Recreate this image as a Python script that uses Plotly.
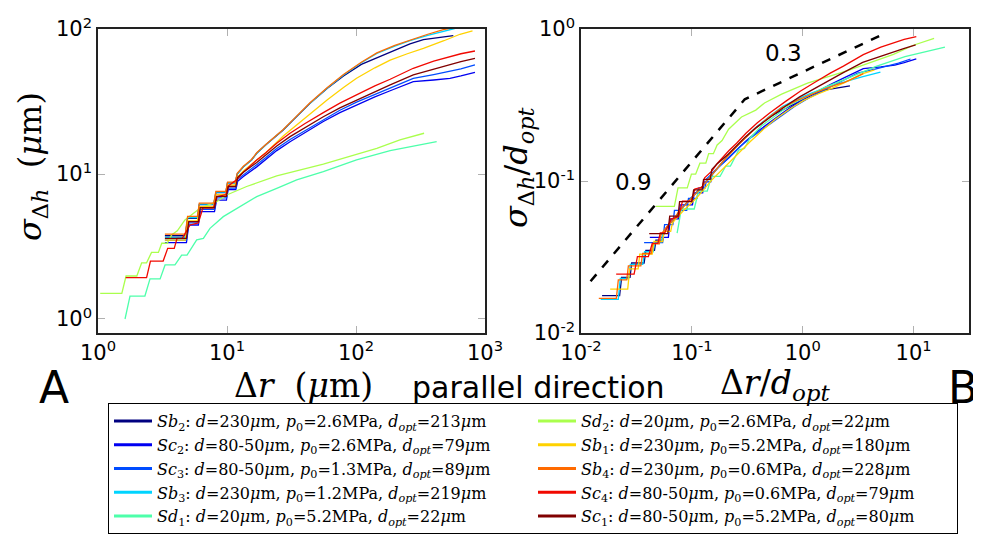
import numpy as np
import plotly.graph_objects as go

# ---------------- data ----------------
SERIES = ["Sb2", "Sc2", "Sc3", "Sb3", "Sd1", "Sd2", "Sb1", "Sb4", "Sc4", "Sc1"]
D_TXT = ["230", "80-50", "80-50", "230", "20", "20", "230", "230", "80-50", "80-50"]
P0 = ["2.6", "2.6", "1.3", "1.2", "5.2", "2.6", "5.2", "0.6", "0.6", "5.2"]
D_OPT = [213, 79, 89, 219, 22, 22, 180, 228, 79, 80]
COLORS = ["#000080", "#0000F1", "#004CFF", "#00D4FF", "#4DFFAA",
          "#AAFF4D", "#FFD200", "#FF6A00", "#F10800", "#800000"]
LEGEND_RANK = [1, 3, 5, 7, 9, 2, 4, 6, 8, 10]

# Delta r (um) and sigma_Delta h (um) for each series (left panel)
X_SB2 = [3.3, 4.75, 4.95, 5.9, 6.1, 7.9, 8.2, 9.8, 10.1, 11.6, 12.0, 13.4, 15.5, 17, 20, 23, 27.3, 33, 44, 60,
         80, 110, 153, 200, 262, 333, 450, 568]
Y_SB2 = [3.75, 3.75, 4.95, 4.95, 6.15, 6.15, 7.45, 7.45, 8.7, 8.7, 10.0, 11.2, 12.5, 13.9, 15.9, 17.7, 20.1, 23.8,
         30.7, 39, 47.5, 57, 64.5, 72, 79, 84.5, 88, 90]

X_SC2 = [3.3, 4.85, 5.05, 6.0, 6.2, 8.0, 8.3, 9.9, 10.2, 11.7, 12.1, 13.4, 17, 20, 24.3, 30.8, 40, 55.8, 75, 101,
         140, 184, 278, 400, 535, 650, 836]
Y_SC2 = [3.36, 3.36, 4.45, 4.45, 5.5, 5.5, 6.6, 6.6, 7.8, 7.8, 8.9, 9.6, 11.2, 12.6, 14.5, 16.7, 19.2, 23, 26.5,
         29.9, 34, 37.5, 43.3, 44.5, 45.7, 47.5, 50.3]

X_SC3 = [3.3, 4.85, 5.05, 6.0, 6.2, 8.0, 8.3, 9.9, 10.2, 11.7, 12.1, 13.4, 17, 20, 24.3, 30.8, 40, 55.8, 75, 101,
         140, 184, 278, 400, 535, 650, 836]
Y_SC3 = [3.5, 3.5, 4.6, 4.6, 5.7, 5.7, 6.85, 6.85, 8.0, 8.0, 9.2, 9.9, 11.6, 13.0, 15.0, 17.3, 19.9, 23.8, 27.5,
         31.3, 35.5, 39.2, 45.7, 48.5, 50.8, 53, 56.5]

X_SB3 = [3.3, 4.75, 4.95, 5.9, 6.1, 7.9, 8.2, 9.8, 10.1, 11.6, 12.0, 13.4, 15.5, 17, 20, 23, 27.3, 33, 44, 60,
         80, 110, 145, 200, 262, 360, 475, 560, 750, 1100]
Y_SB3 = [3.65, 3.65, 5.0, 5.0, 6.2, 6.2, 7.5, 7.5, 8.7, 8.7, 10.0, 11.2, 12.5, 13.9, 15.9, 17.7, 20.2, 23.9, 30.8,
         39.2, 48.1, 58.5, 67.8, 76.2, 83, 90.5, 97, 100, 106, 114]

X_SD1 = [1.62, 1.77, 2.31, 2.53, 3.03, 3.31, 3.95, 4.45, 4.9, 5.82, 6.56, 7.38, 9.36, 11.9, 17, 24.3, 34.7, 55.8,
         101, 184, 333, 422]
Y_SD1 = [1.0, 1.44, 1.44, 1.89, 1.89, 2.36, 2.36, 2.76, 2.76, 3.51, 3.6, 4.22, 5.08, 5.8, 6.98, 7.96, 9.1, 10.4,
         12.5, 14.5, 16.1, 16.7]

X_SD2 = [1.04, 1.53, 1.65, 2.0, 2.18, 2.38, 2.6, 2.94, 3.12, 3.44, 3.72, 4.12, 4.72, 6.17, 8.3, 9.95, 14.2, 24.3,
         55.8, 101, 145, 219, 337]
Y_SD2 = [1.5, 1.5, 1.98, 1.98, 2.44, 2.44, 2.88, 2.88, 3.33, 3.33, 3.8, 4.06, 4.82, 5.8, 6.44, 7.17, 8.2, 9.69,
         11.7, 13.7, 15, 17.2, 19.1]

X_SB1 = [3.3, 4.75, 4.95, 5.9, 6.1, 7.9, 8.2, 9.8, 10.1, 11.6, 12.0, 13.4, 17, 20, 27.3, 33, 44, 60, 80, 101,
         140, 184, 250, 333, 480, 640, 800]
Y_SB1 = [3.5, 3.5, 4.75, 4.75, 5.95, 5.95, 7.2, 7.2, 8.4, 8.4, 9.5, 10.5, 12.5, 14.0, 18.3, 21.0, 26.2, 32.5,
         39.5, 45.7, 54, 61, 67.5, 73.5, 83, 92, 97]

X_SB4 = [3.3, 4.75, 4.95, 5.9, 6.1, 7.9, 8.2, 9.8, 10.1, 11.6, 12.0, 13.4, 15.5, 17, 20, 23, 27.3, 33, 44, 60,
         80, 110, 145, 200, 262, 360, 475, 535, 650, 800]
Y_SB4 = [3.85, 3.85, 5.1, 5.1, 6.3, 6.3, 7.6, 7.6, 8.8, 8.8, 10.1, 11.3, 12.6, 14.0, 16.0, 17.8, 20.3, 24.0, 31.0,
         39.5, 48.5, 59, 68.5, 77, 84, 92, 99, 101, 108, 116]

X_SC4 = [1.64, 2.38, 2.55, 3.2, 3.47, 3.9, 4.1, 4.5, 5.17, 6.0, 6.5, 7.83, 8.4, 9.8, 10.3, 12, 13.4, 17, 20, 24.3,
         30.8, 40, 55.8, 75, 101, 140, 184, 278, 400, 535, 650, 836]
Y_SC4 = [1.93, 1.93, 2.51, 2.51, 3.07, 3.07, 3.6, 3.6, 4.45, 4.6, 5.83, 5.83, 7.0, 7.2, 8.3, 9.2, 10.3, 12.5,
         14.0, 16.3, 19.1, 22.2, 26.5, 30.8, 35.1, 40.5, 45, 53.6, 60, 64.5, 67.5, 70.5]

X_SC1 = [3.3, 4.85, 5.05, 6.0, 6.2, 8.0, 8.3, 9.9, 10.2, 11.7, 12.1, 13.4, 17, 20, 24.3, 30.8, 40, 55.8, 75, 101,
         140, 184, 278, 400, 535, 650, 836]
Y_SC1 = [3.6, 3.6, 4.7, 4.7, 5.85, 5.85, 7.0, 7.0, 8.2, 8.2, 9.5, 10.3, 12.0, 13.5, 15.6, 18.1, 20.8, 24.8, 28.6,
         32.4, 37.2, 41.2, 48.2, 53, 57, 59.5, 62.8]

DATA_X = [X_SB2, X_SC2, X_SC3, X_SB3, X_SD1, X_SD2, X_SB1, X_SB4, X_SC4, X_SC1]
DATA_Y = [Y_SB2, Y_SC2, Y_SC3, Y_SB3, Y_SD1, Y_SD2, Y_SB1, Y_SB4, Y_SC4, Y_SC1]

# guide line (slopes 0.9 and 0.3) in right panel
GUIDE_X = [0.0122, 0.30, 5.37]
GUIDE_Y = [0.0219, 0.345, 0.927]

# ticks
LEFT_X_TICKS = [1, 10, 100, 1000]
LEFT_X_TEXT = ["10<sup>0</sup>", "10<sup>1</sup>", "10<sup>2</sup>", "10<sup>3</sup>"]
LEFT_Y_TICKS = [1, 10, 100]
LEFT_Y_TEXT = ["10<sup>0</sup>", "10<sup>1</sup>", "10<sup>2</sup>"]
RIGHT_X_TICKS = [0.01, 0.1, 1, 10]
RIGHT_X_TEXT = ["10<sup>-2</sup>", "10<sup>-1</sup>", "10<sup>0</sup>", "10<sup>1</sup>"]
RIGHT_Y_TICKS = [0.01, 0.1, 1]
RIGHT_Y_TEXT = ["10<sup>-2</sup>", "10<sup>-1</sup>", "10<sup>0</sup>"]

# ---------------- figure ----------------
OFF = 8                      # page body margin of the html page
W, H = 981 - OFF, 537 - OFF  # figure size so the page fits the window


def fx(p):  # window pixel -> paper x
    return (p - OFF) / W


def fy(p):  # window pixel -> paper y
    return 1 - (p - OFF) / H


fig = go.Figure()


def label(i):
    s = SERIES[i]
    return (f"<i>{s[:2]}</i><sub>{s[2:]}</sub>: <i>d</i>={D_TXT[i]}<i>μ</i>m, "
            f"<i>p</i><sub>0</sub>={P0[i]}MPa, <i>d</i><sub><i>opt</i></sub>={D_OPT[i]}<i>μ</i>m")


for i in range(len(SERIES)):
    fig.add_trace(go.Scatter(x=DATA_X[i], y=DATA_Y[i], mode="lines", showlegend=False,
                             line=dict(color=COLORS[i], width=1.3), xaxis="x", yaxis="y"))
for i in range(len(SERIES)):
    xs = np.array(DATA_X[i]) / D_OPT[i]
    ys = np.array(DATA_Y[i]) / D_OPT[i]
    fig.add_trace(go.Scatter(x=xs, y=ys, mode="lines", showlegend=False,
                             line=dict(color=COLORS[i], width=1.3), xaxis="x2", yaxis="y2"))
fig.add_trace(go.Scatter(x=GUIDE_X, y=GUIDE_Y, mode="lines", showlegend=False,
                         line=dict(color="black", width=2.5, dash="dash"), xaxis="x2", yaxis="y2"))
# legend entries (thicker key lines, as in the reference)
for i in range(len(SERIES)):
    fig.add_trace(go.Scatter(x=[None], y=[None], mode="lines", name=label(i),
                             line=dict(color=COLORS[i], width=3), legendrank=LEGEND_RANK[i],
                             xaxis="x", yaxis="y"))

tickfont = dict(family="DejaVu Sans", size=21, color="black")
common = dict(type="log", showgrid=False, zeroline=False, ticks="inside", ticklen=7,
              tickcolor="#b0b0b0", tickwidth=1, showline=True, linecolor="#222222",
              linewidth=1.5, mirror="ticks", tickfont=tickfont, automargin=False)

fig.update_layout(
    width=W, height=H, margin=dict(l=0, r=0, t=0, b=0, autoexpand=False),
    paper_bgcolor="white", plot_bgcolor="white",
    xaxis=dict(range=[0, 3], domain=[fx(98), fx(485)], anchor="y",
               tickvals=LEFT_X_TICKS, ticktext=LEFT_X_TEXT, **common),
    yaxis=dict(range=[-0.0966, 2], domain=[fy(333), fy(29)], anchor="x",
               tickvals=LEFT_Y_TICKS, ticktext=LEFT_Y_TEXT, **common),
    xaxis2=dict(range=[-2, 1.5], domain=[fx(581), fx(969)], anchor="y2",
                tickvals=RIGHT_X_TICKS, ticktext=RIGHT_X_TEXT, **common),
    yaxis2=dict(range=[-2, 0], domain=[fy(333), fy(29)], anchor="x2",
                tickvals=RIGHT_Y_TICKS, ticktext=RIGHT_Y_TEXT, **common),
    legend=dict(orientation="h", traceorder="normal", x=fx(108), y=fy(403),
                xanchor="left", yanchor="top", entrywidth=371, entrywidthmode="pixels",
                itemwidth=38, bordercolor="black", borderwidth=1, bgcolor="white",
                font=dict(family="DejaVu Serif", size=16, color="black")),
    showlegend=True,
)

serif = "DejaVu Serif"
ann = [
    dict(x=fx(32), y=fy(167), text="<i>σ</i><sub>Δ<i>h</i></sub>  (<i>μ</i>m)", textangle=-90,
         font=dict(family=serif, size=32)),
    dict(x=fx(518), y=fy(167), text="<i>σ</i><sub>Δ<i>h</i></sub>/<i>d</i><sub><i>opt</i></sub>",
         textangle=-90, font=dict(family=serif, size=32)),
    dict(x=fx(303), y=fy(385), text="Δ<i>r</i>  (<i>μ</i>m)", font=dict(family=serif, size=33)),
    dict(x=fx(775), y=fy(384), text="Δ<i>r</i>/<i>d</i><sub><i>opt</i></sub>",
         font=dict(family=serif, size=33)),
    dict(x=fx(538), y=fy(387), text="parallel direction", font=dict(family="DejaVu Sans", size=30)),
    dict(x=fx(54), y=fy(387), text="A", font=dict(family="DejaVu Sans", size=44)),
    dict(x=fx(963), y=fy(387), text="B", font=dict(family="DejaVu Sans", size=44)),
    dict(x=fx(633), y=fy(182), text="0.9", font=dict(family="DejaVu Sans", size=23)),
    dict(x=fx(783), y=fy(53), text="0.3", font=dict(family="DejaVu Sans", size=23)),
]
for a in ann:
    a.update(xref="paper", yref="paper", showarrow=False, xanchor="center", yanchor="middle")
    a["font"]["color"] = "black"
fig.update_layout(annotations=ann)

fig.write_html("out.html")
